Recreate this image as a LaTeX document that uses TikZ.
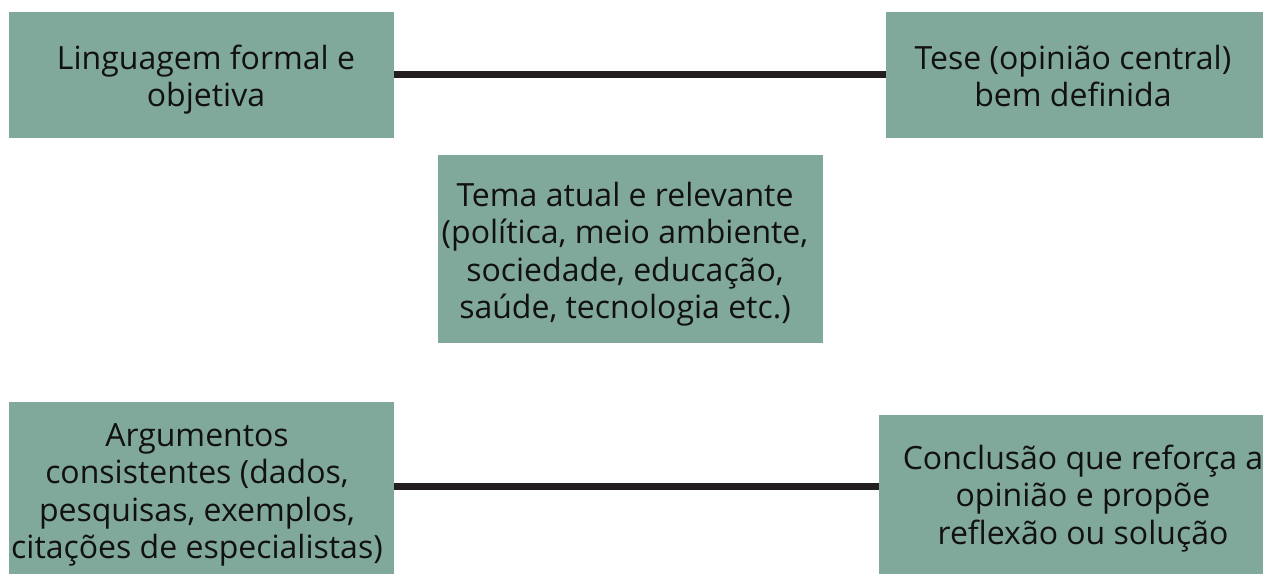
\documentclass[tikz,border=0pt]{standalone}
\usepackage{fontspec}
\setmainfont{Open Sans}
\definecolor{boxfill}{HTML}{80A89B}
\definecolor{linecol}{HTML}{231F20}
\definecolor{txtcol}{HTML}{111111}
\tikzset{
  box/.style={fill=boxfill, draw=none, inner sep=0pt, outer sep=0pt},
  txt/.style={font=\fontsize{32}{37.5}\selectfont, text=txtcol, align=center, inner sep=0pt, anchor=north},
  conn/.style={draw=linecol, line width=7pt}
}
\newcommand{\fstrut}{\rule{0pt}{26pt}}
\begin{document}
\begin{tikzpicture}[x=1pt,y=-1pt]
\useasboundingbox (0,0) rectangle (1263,574);
% boxes
\node[box, minimum width=385pt, minimum height=126pt] (b1) at (201.5,75) {};
\node[box, minimum width=377pt, minimum height=126pt] (b2) at (1074.5,75) {};
\node[box, minimum width=385pt, minimum height=188pt] (b3) at (630.5,249) {};
\node[box, minimum width=385pt, minimum height=172pt] (b4) at (201.5,488) {};
\node[box, minimum width=384pt, minimum height=159pt] (b5) at (1071,494.5) {};
% texts
\node[txt] (t1) at (206,43) {\fstrut Linguagem formal e\\objetiva};
\node[txt] (t2) at (1073,43) {\fstrut Tese (opinião central)\\bem definida};
\node[txt] (t3) at (625,180) {\fstrut Tema atual e relevante\\(política, meio ambiente,\\sociedade, educação,\\saúde, tecnologia etc.)};
\node[txt] (t4) at (197,420) {\fstrut Argumentos\\consistentes (dados,\\pesquisas, exemplos,\\citações de especialistas)};
\node[txt] (t5) at (1083,443) {\fstrut Conclusão que reforça a\\opinião e propõe\\reflexão ou solução};
% connectors
\draw[conn] ([yshift=0.5pt]b1.east) -- ([yshift=0.5pt]b2.west);
\draw[conn] ([yshift=1.5pt]b4.east) -- ([yshift=1.5pt]b4.east -| b5.west);
\end{tikzpicture}
\end{document}
